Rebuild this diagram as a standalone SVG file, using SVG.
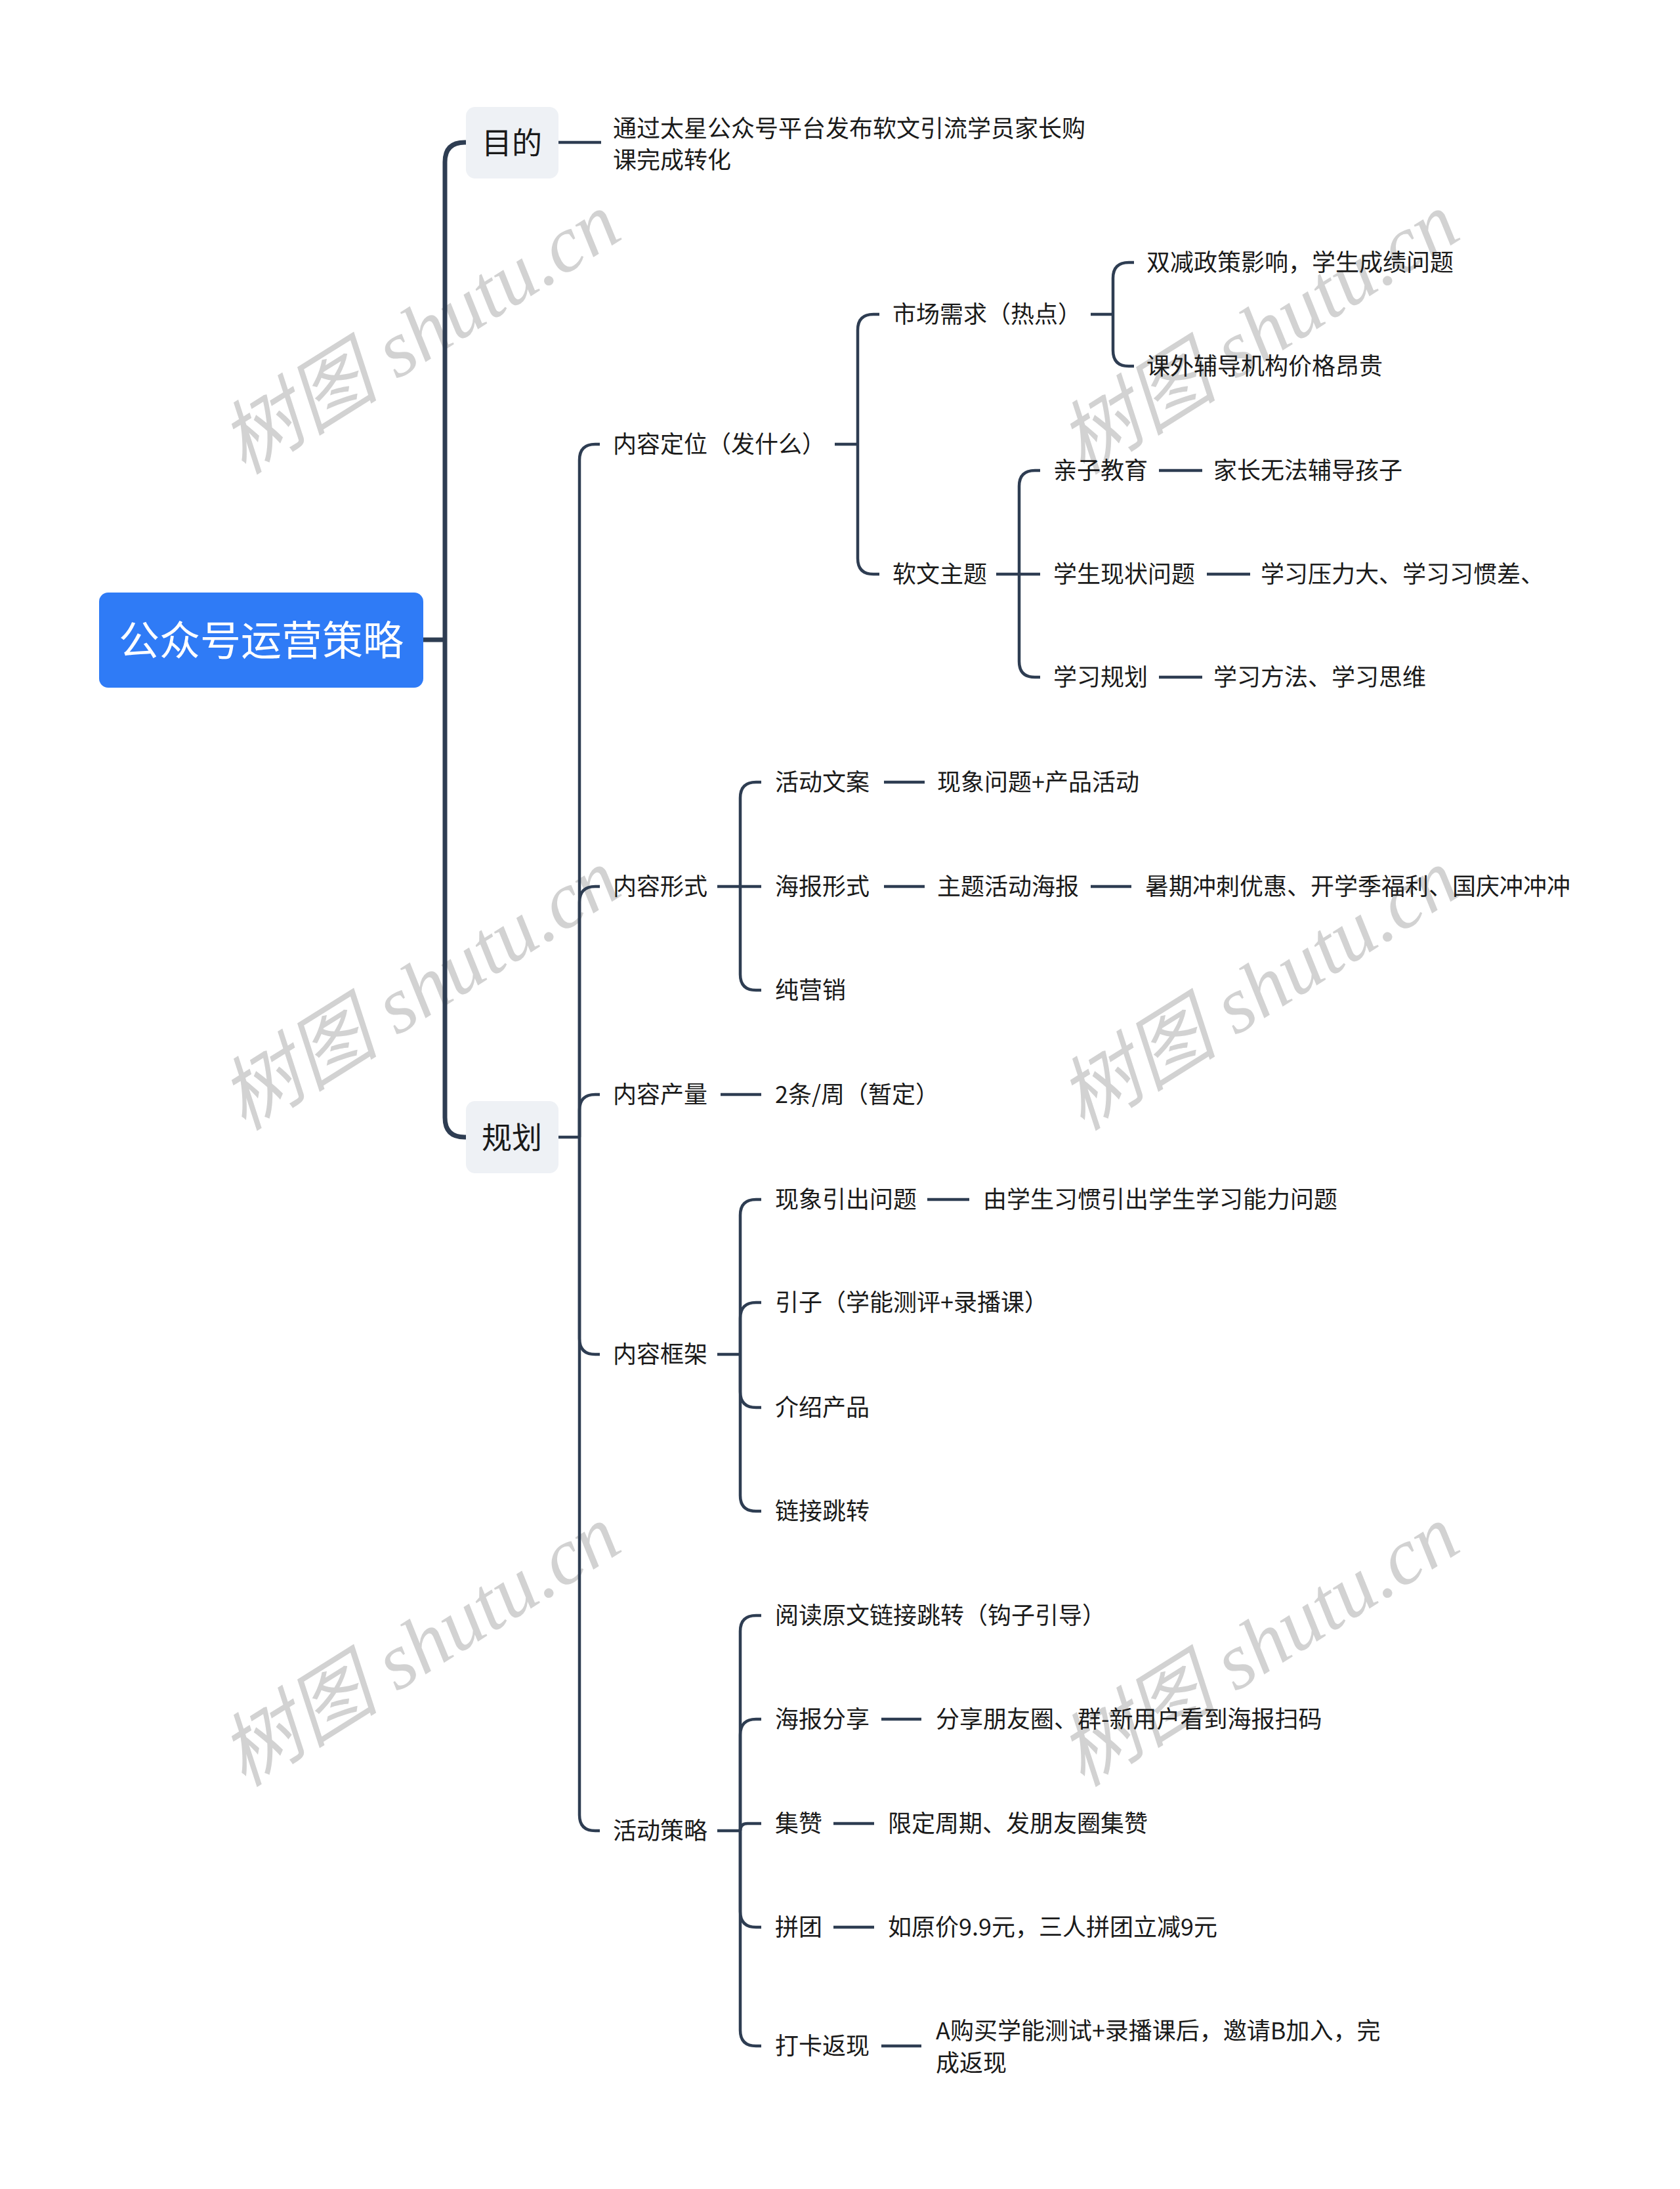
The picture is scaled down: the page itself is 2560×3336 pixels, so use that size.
<svg xmlns="http://www.w3.org/2000/svg" width="2560" height="3336" viewBox="0 0 2560 3336">
<style>
.t{font-family:"Noto Sans CJK SC","Noto Sans",sans-serif;font-size:36px;fill:#1a1a1a;dominant-baseline:central}
.l1{font-family:"Noto Sans CJK SC","Noto Sans",sans-serif;font-size:46px;fill:#1a1a1a;dominant-baseline:central;text-anchor:middle}
.root{font-family:"Noto Sans CJK SC","Noto Sans",sans-serif;font-size:62px;fill:#ffffff;dominant-baseline:central;text-anchor:middle}
.wm{font-family:"Liberation Serif","Noto Sans CJK SC",serif;font-style:italic;font-size:122px;fill:#d2d2d2;text-anchor:middle;dominant-baseline:central}
.c{fill:none;stroke:#2e3d52;stroke-width:4.5;stroke-linecap:butt}
.ct{fill:none;stroke:#2e3d52;stroke-width:7}
.box{fill:#eef1f5}
</style>
<rect width="2560" height="3336" fill="#ffffff"/>
<g id="watermarks">
<text class="wm" x="640" y="508" transform="rotate(-32 640 508)">树图 shutu.cn</text>
<text class="wm" x="1918" y="508" transform="rotate(-32 1918 508)">树图 shutu.cn</text>
<text class="wm" x="640" y="1508" transform="rotate(-32 640 1508)">树图 shutu.cn</text>
<text class="wm" x="1918" y="1508" transform="rotate(-32 1918 1508)">树图 shutu.cn</text>
<text class="wm" x="640" y="2508" transform="rotate(-32 640 2508)">树图 shutu.cn</text>
<text class="wm" x="1918" y="2508" transform="rotate(-32 1918 2508)">树图 shutu.cn</text>
</g>
<g id="connectors">
<path class="ct" d="M645 975 L678 975"/>
<path class="ct" d="M678 975 L678 247 Q678 217 708 217 L711 217"/>
<path class="ct" d="M678 975 L678 1703 Q678 1733 708 1733 L711 1733"/>
<path class="c" d="M851 217 L916 217"/>
<path class="c" d="M851 1733 L883 1733"/>
<path class="c" d="M883 1733 L883 701 Q883 677 907 677 L914 677"/>
<path class="c" d="M883 1733 L883 1375 Q883 1351 907 1351 L914 1351"/>
<path class="c" d="M883 1733 L883 1692 Q883 1668 907 1668 L914 1668"/>
<path class="c" d="M883 1733 L883 2040 Q883 2064 907 2064 L914 2064"/>
<path class="c" d="M883 1733 L883 2766 Q883 2790 907 2790 L914 2790"/>
<path class="c" d="M1272 677 L1307 677"/>
<path class="c" d="M1307 677 L1307 503 Q1307 479 1331 479 L1340 479"/>
<path class="c" d="M1307 677 L1307 851 Q1307 875 1331 875 L1340 875"/>
<path class="c" d="M1662 479 L1696 479"/>
<path class="c" d="M1696 479 L1696 424 Q1696 400 1720 400 L1728 400"/>
<path class="c" d="M1696 479 L1696 534 Q1696 558 1720 558 L1728 558"/>
<path class="c" d="M1518 875 L1553 875"/>
<path class="c" d="M1553 875 L1553 741 Q1553 717 1577 717 L1585 717"/>
<path class="c" d="M1553 875 L1585 875"/>
<path class="c" d="M1553 875 L1553 1008 Q1553 1032 1577 1032 L1585 1032"/>
<path class="c" d="M1766 717 L1832 717"/>
<path class="c" d="M1839 875 L1905 875"/>
<path class="c" d="M1766 1032 L1832 1032"/>
<path class="c" d="M1093 1351 L1128 1351"/>
<path class="c" d="M1128 1351 L1128 1216 Q1128 1192 1152 1192 L1160 1192"/>
<path class="c" d="M1128 1351 L1160 1351"/>
<path class="c" d="M1128 1351 L1128 1485 Q1128 1509 1152 1509 L1160 1509"/>
<path class="c" d="M1347 1192 L1409 1192"/>
<path class="c" d="M1347 1351 L1409 1351"/>
<path class="c" d="M1662 1351 L1724 1351"/>
<path class="c" d="M1098 1668 L1160 1668"/>
<path class="c" d="M1093 2064 L1128 2064"/>
<path class="c" d="M1128 2064 L1128 1852 Q1128 1828 1152 1828 L1160 1828"/>
<path class="c" d="M1128 2064 L1128 2009 Q1128 1985 1152 1985 L1160 1985"/>
<path class="c" d="M1128 2064 L1128 2121 Q1128 2145 1152 2145 L1160 2145"/>
<path class="c" d="M1128 2064 L1128 2279 Q1128 2303 1152 2303 L1160 2303"/>
<path class="c" d="M1413 1828 L1477 1828"/>
<path class="c" d="M1093 2790 L1128 2790"/>
<path class="c" d="M1128 2790 L1128 2486 Q1128 2462 1152 2462 L1160 2462"/>
<path class="c" d="M1128 2790 L1128 2644 Q1128 2620 1152 2620 L1160 2620"/>
<path class="c" d="M1128 2790 Q1128 2779 1139 2779 L1160 2779"/>
<path class="c" d="M1128 2790 L1128 2913 Q1128 2937 1152 2937 L1160 2937"/>
<path class="c" d="M1128 2790 L1128 3094 Q1128 3118 1152 3118 L1160 3118"/>
<path class="c" d="M1343 2620 L1404 2620"/>
<path class="c" d="M1270 2779 L1332 2779"/>
<path class="c" d="M1270 2937 L1332 2937"/>
<path class="c" d="M1343 3118 L1404 3118"/>
</g>
<g id="root"><rect x="151" y="903" width="494" height="145" rx="14" fill="#2f7bf6"/><text class="root" x="398" y="972">公众号运营策略</text></g>
<g id="n-mudi"><rect class="box" x="710" y="163" width="141" height="109" rx="14"/><text class="l1" x="780" y="214">目的</text></g>
<g id="n-guihua"><rect class="box" x="710" y="1678" width="141" height="110" rx="14"/><text class="l1" x="780" y="1730">规划</text></g>
<g id="n-mudi-text"><text class="t" x="934" y="193">通过太星公众号平台发布软文引流学员家长购</text><text class="t" x="934" y="241">课完成转化</text></g>
<g id="n-dingwei"><text class="t" x="934" y="674">内容定位（发什么）</text></g>
<g id="n-shichang"><text class="t" x="1360" y="476">市场需求（热点）</text></g>
<g id="n-shuangjian"><text class="t" x="1747" y="397">双减政策影响，学生成绩问题</text></g>
<g id="n-kewai"><text class="t" x="1747" y="555">课外辅导机构价格昂贵</text></g>
<g id="n-ruanwen"><text class="t" x="1360" y="872">软文主题</text></g>
<g id="n-qinzi"><text class="t" x="1605" y="714">亲子教育</text></g>
<g id="n-qinzi-d"><text class="t" x="1849" y="714">家长无法辅导孩子</text></g>
<g id="n-xianzhuang"><text class="t" x="1605" y="872">学生现状问题</text></g>
<g id="n-xianzhuang-d"><text class="t" x="1921" y="872">学习压力大、学习习惯差、</text></g>
<g id="n-guihua2"><text class="t" x="1605" y="1029">学习规划</text></g>
<g id="n-guihua2-d"><text class="t" x="1849" y="1029">学习方法、学习思维</text></g>
<g id="n-xingshi"><text class="t" x="934" y="1348">内容形式</text></g>
<g id="n-wenan"><text class="t" x="1181" y="1189">活动文案</text></g>
<g id="n-wenan-d"><text class="t" x="1428" y="1189">现象问题+产品活动</text></g>
<g id="n-haibao"><text class="t" x="1181" y="1348">海报形式</text></g>
<g id="n-zhuti"><text class="t" x="1428" y="1348">主题活动海报</text></g>
<g id="n-zhuti-d"><text class="t" x="1745" y="1348">暑期冲刺优惠、开学季福利、国庆冲冲冲</text></g>
<g id="n-yingxiao"><text class="t" x="1181" y="1506">纯营销</text></g>
<g id="n-chanliang"><text class="t" x="934" y="1665">内容产量</text></g>
<g id="n-chanliang-d"><text class="t" x="1181" y="1665">2条/周（暂定）</text></g>
<g id="n-kuangjia"><text class="t" x="934" y="2061">内容框架</text></g>
<g id="n-xianxiang"><text class="t" x="1181" y="1825">现象引出问题</text></g>
<g id="n-xianxiang-d"><text class="t" x="1498" y="1825">由学生习惯引出学生学习能力问题</text></g>
<g id="n-yinzi"><text class="t" x="1181" y="1982">引子（学能测评+录播课）</text></g>
<g id="n-jieshao"><text class="t" x="1181" y="2142">介绍产品</text></g>
<g id="n-lianjie"><text class="t" x="1181" y="2300">链接跳转</text></g>
<g id="n-celue"><text class="t" x="934" y="2787">活动策略</text></g>
<g id="n-yuedu"><text class="t" x="1181" y="2459">阅读原文链接跳转（钩子引导）</text></g>
<g id="n-fenxiang"><text class="t" x="1181" y="2617">海报分享</text></g>
<g id="n-fenxiang-d"><text class="t" x="1426" y="2617">分享朋友圈、群-新用户看到海报扫码</text></g>
<g id="n-jizan"><text class="t" x="1181" y="2776">集赞</text></g>
<g id="n-jizan-d"><text class="t" x="1353" y="2776">限定周期、发朋友圈集赞</text></g>
<g id="n-pintuan"><text class="t" x="1181" y="2934">拼团</text></g>
<g id="n-pintuan-d"><text class="t" x="1353" y="2934">如原价9.9元，三人拼团立减9元</text></g>
<g id="n-daka"><text class="t" x="1181" y="3115">打卡返现</text></g>
<g id="n-daka-d"><text class="t" x="1426" y="3092">A购买学能测试+录播课后，邀请B加入，完</text><text class="t" x="1426" y="3141">成返现</text></g>
</svg>
